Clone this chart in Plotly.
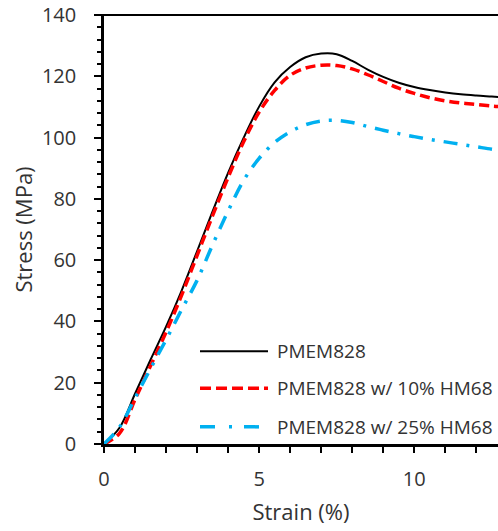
import plotly.graph_objects as go

names = ["PMEM828", "PMEM828 w/ 10% HM68", "PMEM828 w/ 25% HM68"]

strain = [0, 0.5, 1.0, 1.5, 2.0, 2.5, 3.0, 3.5, 4.0, 4.5, 5.0, 5.5, 6.0, 6.5, 7.0, 7.5, 8.0, 8.5,
          9.0, 9.5, 10.0, 10.5, 11.0, 11.5, 12.0, 12.5, 12.8]
stress_a = [0, 5.3, 16.4, 27.5, 38.3, 50.0, 62.9, 75.9, 88.5, 99.9, 110.1, 118.0, 123.0, 126.2, 127.4, 127.2,
            125.0, 122.2, 119.8, 117.9, 116.5, 115.5, 114.7, 114.1, 113.7, 113.4, 113.2]
stress_b = [0, 3.5, 14.5, 25.5, 36.5, 48.5, 61.5, 74.5, 87.0, 98.6, 108.3, 115.4, 120.3, 122.7, 123.6, 123.5,
            122.4, 120.5, 118.3, 116.1, 114.4, 113.0, 112.0, 111.3, 110.8, 110.3, 110.1]
stress_c = [0, 5.5, 15.0, 24.6, 34.0, 43.8, 53.4, 65.0, 76.0, 86.0, 93.2, 98.4, 101.9, 104.2, 105.4, 105.6,
            104.9, 103.6, 102.4, 101.3, 100.3, 99.4, 98.6, 97.8, 97.0, 96.2, 95.8]

x_ticks = [0, 5, 10]
y_ticks = [0, 20, 40, 60, 80, 100, 120, 140]

colors = ["#000000", "#FF0000", "#00B0F0"]
dashes = ["solid", "10px,5px", "14px,9px,3px,9px"]
widths = [2, 3.5, 3.5]

FONT = "Open Sans"
TXT = "#333333"
fig = go.Figure()
for sy, nm, c, d, w in zip([stress_a, stress_b, stress_c], names, colors, dashes, widths):
    fig.add_trace(go.Scatter(x=strain, y=sy, mode="lines", name=nm,
                             line=dict(color=c, dash=d, width=w, shape="spline", smoothing=1.0),
                             showlegend=False))

# manual legend
leg_y = [0.216, 0.130, 0.040]
leg_dash = ["solid", "11px,5px", "15px,14px,3px,12px"]
for yy, nm, c, d, w in zip(leg_y, names, colors, leg_dash, widths):
    fig.add_shape(type="line", xref="paper", yref="paper", x0=(200 - 104) / 394, x1=(268 - 104) / 394, y0=yy, y1=yy,
                  line=dict(color=c, dash=d, width=w))
    fig.add_annotation(xref="paper", yref="paper", x=(275 - 104) / 394, y=yy, text=nm, showarrow=False,
                       xanchor="left", yanchor="middle", font=dict(family=FONT, size=19, color=TXT))

# top border
fig.add_shape(type="line", xref="paper", yref="paper", x0=-0.018, x1=1, y0=1, y1=1, line=dict(color="black", width=2))

fig.update_layout(
    width=498, height=531,
    margin=dict(l=104, r=0, t=15, b=87),
    plot_bgcolor="white", paper_bgcolor="white",
    font=dict(family=FONT, size=20, color=TXT),
    xaxis=dict(range=[0, 12.7], tickvals=x_ticks, showgrid=False, zeroline=False,
               showline=True, linecolor="black", linewidth=2.5,
               ticks="outside", ticklen=6, tickwidth=2, tickcolor="black",
               minor=dict(dtick=1, ticks="outside", ticklen=6, tickwidth=2, tickcolor="black", showgrid=False),
               ticklabelstandoff=9, tickfont=dict(family=FONT, size=20, color=TXT),
               title=dict(text="Strain (%)", font=dict(family=FONT, size=22, color=TXT), standoff=14)),
    yaxis=dict(range=[0, 140], tickvals=y_ticks, showgrid=False, zeroline=False,
               showline=True, linecolor="black", linewidth=2.5,
               ticks="outside", ticklen=7, tickwidth=2, tickcolor="black",
               minor=dict(dtick=4, ticks="outside", ticklen=4, tickwidth=2, tickcolor="black", showgrid=False),
               ticklabelstandoff=14, tickfont=dict(family=FONT, size=20, color=TXT),
               title=dict(text="Stress (MPa)", font=dict(family=FONT, size=22, color=TXT), standoff=4)),
)

fig.write_html("out.html")
